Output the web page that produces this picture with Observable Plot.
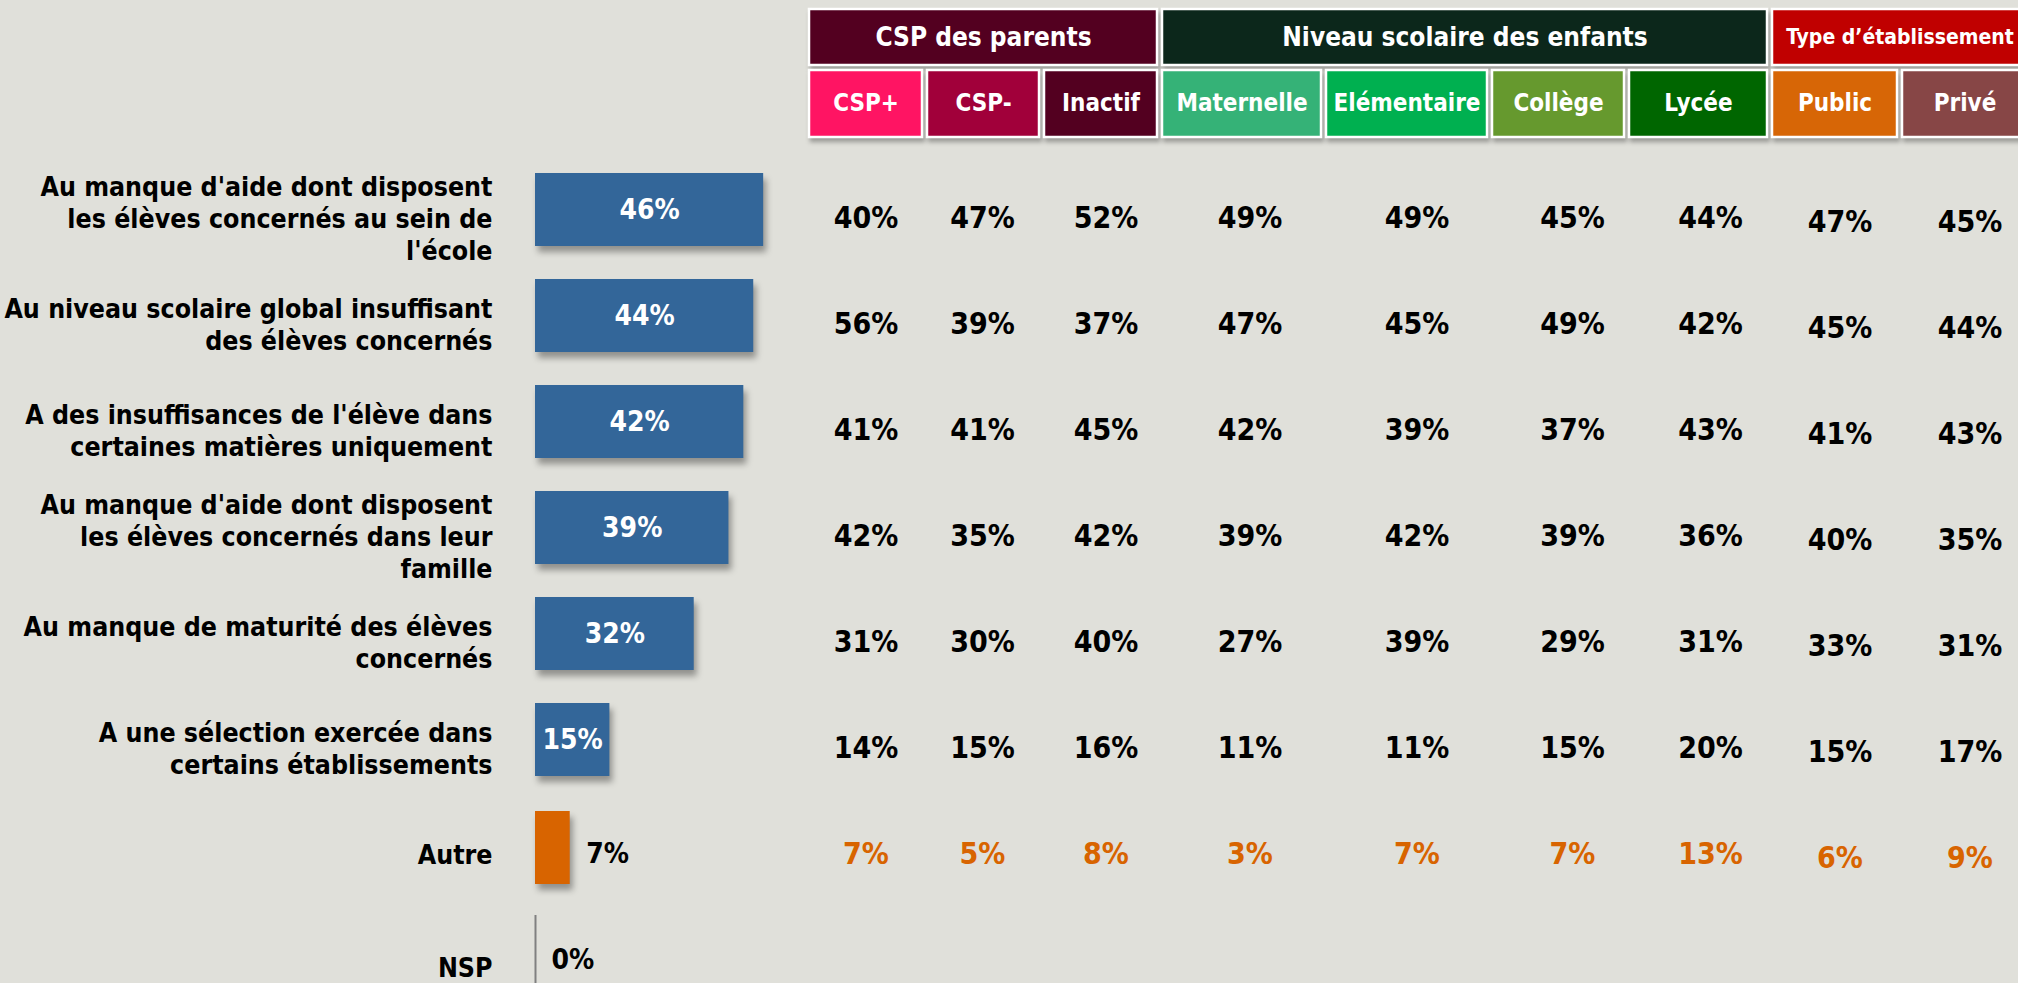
<!DOCTYPE html>
<html>
<head>
<meta charset="utf-8">
<script src="https://cdn.jsdelivr.net/npm/d3@7"></script>
<script src="https://cdn.jsdelivr.net/npm/@observablehq/plot@0.6"></script>
<style>
  html, body { margin: 0; padding: 0; background: #E0E0DA; overflow: hidden; }
  #wrap { position: relative; width: 2018px; height: 983px; overflow: hidden; background: #E0E0DA; }
  #wrap > svg { position: absolute; left: 0; top: 0; overflow: visible; }
  #bars g[aria-label="bar"] { filter: drop-shadow(3px 6px 3px rgba(0,0,0,0.35)); }
  #heads g[aria-label="bar"] { filter: drop-shadow(2px 4px 2px rgba(0,0,0,0.3)); }
</style>
</head>
<body>
<div id="wrap"></div>
<script>
// ---------- DATA ----------
const reasons = [
  "Au manque d'aide dont disposent\nles élèves concernés au sein de\nl'école",
  "Au niveau scolaire global insuffisant\ndes élèves concernés",
  "A des insuffisances de l'élève dans\ncertaines matières uniquement",
  "Au manque d'aide dont disposent\nles élèves concernés dans leur\nfamille",
  "Au manque de maturité des élèves\nconcernés",
  "A une sélection exercée dans\ncertains établissements",
  "Autre",
  "NSP"
];
const overall = [46, 44, 42, 39, 32, 15, 7, 0];

const groups = ["CSP des parents", "Niveau scolaire des enfants", "Type d’établissement"];
const columns = ["CSP+", "CSP-", "Inactif", "Maternelle", "Elémentaire", "Collège", "Lycée", "Public", "Privé"];
const columnGroup = [0, 0, 0, 1, 1, 1, 1, 2, 2];

const cspPlus     = [40, 56, 41, 42, 31, 14, 7];
const cspMoins    = [47, 39, 41, 35, 30, 15, 5];
const inactif     = [52, 37, 45, 42, 40, 16, 8];
const maternelle  = [49, 47, 42, 39, 27, 11, 3];
const elementaire = [49, 45, 39, 42, 39, 11, 7];
const college     = [45, 49, 37, 39, 29, 15, 7];
const lycee       = [44, 42, 43, 36, 31, 20, 13];
const publicEtab  = [47, 45, 41, 40, 33, 15, 6];
const prive       = [45, 44, 43, 35, 31, 17, 9];
const columnValues = [cspPlus, cspMoins, inactif, maternelle, elementaire, college, lycee, publicEtab, prive];

// ---------- STYLE / LAYOUT ----------
const font = "'DejaVu Sans Condensed', 'DejaVu Sans', sans-serif";
const groupColors = ["#530020", "#0C271B", "#C00000"];
const columnColors = ["#FF1463", "#A1003A", "#530020", "#35B277", "#00B050", "#66992E", "#006600", "#D76606", "#874646"];
const barBlue = "#336699", orange = "#D86400";
const slotWidth = [118, 117, 118, 164, 166, 137, 143, 130, 130];
const valueShift = [0, -1, 5, 8, 10, 14, 12, 5, 5];
const boxGap = 5;
const W = 2018, H = 983;

const wrap = document.getElementById("wrap");

// ---------- BAR PART ----------
const rows = reasons.map((reason, i) => ({reason, value: overall[i], i}));
const mainRows = rows.slice(0, 6), autreRows = rows.slice(6, 7), nspRows = rows.slice(7);
const yBand = {type: "band", domain: reasons, range: [165, 1013], paddingInner: 0.31, paddingOuter: 0.155, axis: null};

const bars = Plot.plot({
  width: W, height: H, margin: 0,
  style: {background: "transparent", fontFamily: font, overflow: "visible"},
  x: {domain: [0, 100], range: [535, 1031], axis: null},
  y: yBand,
  marks: [
    Plot.barX(mainRows, {x: "value", y: "reason", fill: barBlue, dy: -8}),
    Plot.barX(autreRows, {x: "value", y: "reason", fill: orange, dy: -6}),
    Plot.tickX(nspRows, {x: "value", y: "reason", stroke: "#808080", strokeWidth: 2, dy: -8}),
    Plot.text(mainRows, {x: d => d.value / 2, y: "reason", text: d => d.value + "%", fill: "white", fontSize: 28, fontWeight: "bold", dy: -8}),
    Plot.text(autreRows.concat(nspRows), {x: "value", y: "reason", text: d => d.value + "%", textAnchor: "start", dx: 16, fill: "black", fontSize: 28, fontWeight: "bold"}),
    Plot.text(rows.slice(0, 7), {x: 0, y: "reason", text: "reason", textAnchor: "end", dx: -43, fill: "black", fontSize: 26.5, fontWeight: "bold", lineHeight: 1.21}),
    Plot.text(nspRows, {x: 0, y: "reason", text: "reason", textAnchor: "end", dx: -43, dy: 9, fill: "black", fontSize: 26.5, fontWeight: "bold"})
  ]
});
bars.id = "bars";
wrap.appendChild(bars);

// ---------- HEADER + TABLE ----------
let acc = 0;
const colData = columns.map((name, i) => {
  const start = acc; acc += slotWidth[i];
  return {name, i, start, end: acc - boxGap, center: start + (slotWidth[i] - boxGap) / 2, group: groups[columnGroup[i]], color: columnColors[i]};
});
const totalUnits = acc;
const groupData = groups.map((g, k) => {
  const cs = colData.filter(c => c.group === g);
  return {name: g, start: cs[0].start, end: cs[cs.length - 1].end, color: groupColors[k], k};
});
const xTable = {domain: [0, totalUnits], range: [809, 809 + totalUnits], axis: null};

const heads = Plot.plot({
  width: W, height: H, margin: 0,
  style: {background: "transparent", fontFamily: font, overflow: "visible"},
  x: xTable,
  y: {type: "band", domain: ["groupe", "colonne"], range: [9, 137], padding: 0, axis: null},
  color: {type: "identity"},
  marks: [
    Plot.barX(groupData, {x1: "start", x2: "end", y: () => "groupe", fill: "color", stroke: "white", strokeWidth: 2.5, insetBottom: 8}),
    Plot.barX(colData, {x1: "start", x2: "end", y: () => "colonne", fill: "color", stroke: "white", strokeWidth: 2.5, insetTop: -3}),
    Plot.text(groupData.slice(0, 2), {x: d => (d.start + d.end) / 2, y: () => "groupe", text: "name", fill: "white", fontSize: 26, fontWeight: "bold", dy: -4}),
    Plot.text(groupData.slice(2), {x: d => (d.start + d.end) / 2, y: () => "groupe", text: "name", fill: "white", fontSize: 21, fontWeight: "bold", dy: -4}),
    Plot.text(colData, {x: "center", y: () => "colonne", text: "name", fill: "white", fontSize: 24, fontWeight: "bold", dy: -2})
  ]
});
heads.id = "heads";
wrap.appendChild(heads);

const cells = [];
columnValues.forEach((vals, c) => vals.forEach((v, r) => cells.push({
  reason: reasons[r], value: v, col: c, x: colData[c].center + valueShift[c], autre: reasons[r] === "Autre", tail: columnGroup[c] === 2
})));

const table = Plot.plot({
  width: W, height: H, margin: 0,
  style: {background: "transparent", fontFamily: font, overflow: "visible"},
  x: xTable,
  y: yBand,
  marks: [
    Plot.text(cells.filter(d => !d.autre && !d.tail), {x: "x", y: "reason", text: d => d.value + "%", fill: "black", fontSize: 30, fontWeight: "bold"}),
    Plot.text(cells.filter(d => !d.autre && d.tail), {x: "x", y: "reason", text: d => d.value + "%", fill: "black", fontSize: 30, fontWeight: "bold", dy: 4}),
    Plot.text(cells.filter(d => d.autre && !d.tail), {x: "x", y: "reason", text: d => d.value + "%", fill: orange, fontSize: 30, fontWeight: "bold"}),
    Plot.text(cells.filter(d => d.autre && d.tail), {x: "x", y: "reason", text: d => d.value + "%", fill: orange, fontSize: 30, fontWeight: "bold", dy: 4})
  ]
});
table.id = "table";
wrap.appendChild(table);
</script>
</body>
</html>
